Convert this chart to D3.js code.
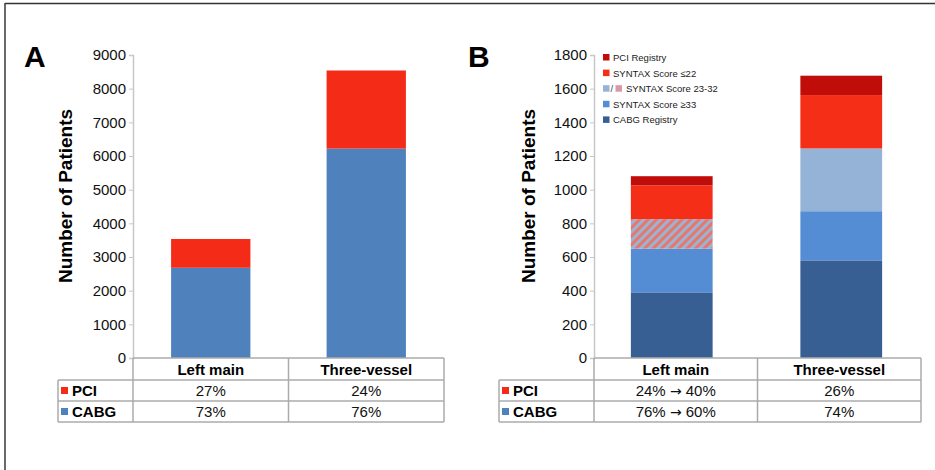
<!DOCTYPE html>
<html><head><meta charset="utf-8">
<script src="https://cdn.jsdelivr.net/npm/d3@7/dist/d3.min.js"></script>
<style>
html,body{margin:0;padding:0;background:#fff;}
svg{display:block;font-family:"Liberation Sans",Arial,sans-serif;}
</style></head>
<body><svg id="c" width="935" height="470"></svg>
<script>
// ---------- DATA ----------
const categories = ["Left main", "Three-vessel"];

// Panel A
const seriesA = ["CABG", "PCI"];
const cabgA = [2680, 6220];
const pciA = [855, 2320];
const ticksA = [0, 1000, 2000, 3000, 4000, 5000, 6000, 7000, 8000, 9000];
const tableA_PCI = ["27%", "24%"];
const tableA_CABG = ["73%", "76%"];

// Panel B
const seriesB = ["CABG Registry", "SYNTAX Score \u226533", "SYNTAX Score 23-32", "SYNTAX Score \u226422", "PCI Registry"];
const cabgRegistryB = [390, 580];
const syntax33B = [260, 292];
const syntax2332B = [175, 373];
const syntax22B = [200, 317];
const pciRegistryB = [55, 115];
const ticksB = [0, 200, 400, 600, 800, 1000, 1200, 1400, 1600, 1800];
const tableB_PCI = ["24% \u2192 40%", "26%"];
const tableB_CABG = ["76% \u2192 60%", "74%"];

// ---------- DRAW ----------
const svg = d3.select("#c");
const defs = svg.append("defs");
const pat = defs.append("pattern").attr("id", "hatch").attr("patternUnits", "userSpaceOnUse")
  .attr("width", 6).attr("height", 6).attr("patternTransform", "rotate(45)");
pat.append("rect").attr("width", 6).attr("height", 6).attr("fill", "#9db3d3");
pat.append("rect").attr("width", 3).attr("height", 6).attr("fill", "#e5786c");

// frame
svg.append("line").attr("x1", 5).attr("x2", 935).attr("y1", 3.5).attr("y2", 3.5).attr("stroke", "#333").attr("stroke-width", 1.6);
svg.append("line").attr("x1", 5).attr("x2", 5).attr("y1", 3).attr("y2", 470).attr("stroke", "#444").attr("stroke-width", 1.6);

function addText(sel, str) {
  // render arrow glyph with a font that has a long arrow
  const parts = str.split("\u2192");
  parts.forEach((p, i) => {
    if (i > 0) sel.append("tspan").attr("font-family", "DejaVu Sans").attr("font-size", 14).text("\u2192");
    sel.append("tspan").text(p);
  });
}

function panel(cfg) {
  const g = svg.append("g");
  const y = d3.scaleLinear().domain([0, cfg.max]).range([cfg.y0, cfg.y1]);
  const x = d3.scaleBand().domain(categories).range([cfg.axisX, cfg.tableRight]).padding(0);
  const bw = x.bandwidth() * cfg.barFrac;

  // letter
  g.append("text").attr("x", cfg.letterX).attr("y", 67).attr("font-size", 30).attr("font-weight", "bold").text(cfg.letter);
  // y label
  g.append("text").attr("transform", `translate(${cfg.labelX},196) rotate(-90)`).attr("text-anchor", "middle")
    .attr("font-size", 19).attr("font-weight", "bold").text("Number of Patients");

  // axis
  const ax = d3.axisLeft(y).tickValues(cfg.ticks).tickSize(4).tickPadding(3).tickFormat(d3.format("d"));
  const axg = g.append("g").attr("transform", `translate(${cfg.axisX},0)`).call(ax);
  axg.select(".domain").attr("stroke", "#c8c8c8").attr("stroke-width", 1.5);
  axg.selectAll(".tick line").attr("stroke", "#c8c8c8");
  axg.selectAll(".tick text").attr("font-size", 15).attr("fill", "#111").attr("font-family", "Liberation Sans, Arial, sans-serif");

  // bars
  const stack = d3.stack().keys(cfg.keys)(cfg.rows);
  stack.forEach((layer, i) => {
    g.selectAll(null).data(layer).enter().append("rect")
      .attr("x", (d, j) => x(categories[j]) + x.bandwidth() / 2 - bw / 2 + (cfg.shift ? cfg.shift[j] : 0))
      .attr("width", bw)
      .attr("y", d => y(d[1]))
      .attr("height", d => y(d[0]) - y(d[1]))
      .attr("fill", (d, j) => cfg.fill(i, j));
  });

  // table
  const tc = "#ababab";
  const rowsY = [cfg.y0, cfg.y0 + 22, cfg.y0 + 43, cfg.y0 + 64];
  const tl = g.append("g").attr("stroke", tc).attr("stroke-width", 1.5);
  tl.append("line").attr("x1", cfg.axisX).attr("x2", cfg.tableRight).attr("y1", rowsY[0]).attr("y2", rowsY[0]);
  [1, 2, 3].forEach(r => tl.append("line").attr("x1", cfg.tableLeft).attr("x2", cfg.tableRight).attr("y1", rowsY[r]).attr("y2", rowsY[r]));
  tl.append("line").attr("x1", cfg.tableLeft).attr("x2", cfg.tableLeft).attr("y1", rowsY[1]).attr("y2", rowsY[3]);
  tl.append("line").attr("x1", cfg.axisX).attr("x2", cfg.axisX).attr("y1", rowsY[0]).attr("y2", rowsY[3]);
  categories.forEach(c => tl.append("line").attr("x1", x(c) + x.bandwidth()).attr("x2", x(c) + x.bandwidth()).attr("y1", rowsY[0]).attr("y2", rowsY[3]));

  categories.forEach((c, j) => {
    const cx = x(c) + x.bandwidth() / 2;
    g.append("text").attr("x", cx).attr("y", rowsY[0] + 16.5).attr("text-anchor", "middle").attr("font-size", 15).attr("font-weight", "bold").text(c);
    addText(g.append("text").attr("x", cx).attr("y", rowsY[1] + 16).attr("text-anchor", "middle").attr("font-size", 15).attr("fill", "#111"), cfg.pct[0][j]);
    addText(g.append("text").attr("x", cx).attr("y", rowsY[2] + 16).attr("text-anchor", "middle").attr("font-size", 15).attr("fill", "#111"), cfg.pct[1][j]);
  });
  ["PCI", "CABG"].forEach((lab, r) => {
    const cy = (rowsY[r + 1] + rowsY[r + 2]) / 2;
    g.append("rect").attr("x", cfg.tableLeft + cfg.sqOff).attr("y", cy - 3.5).attr("width", 7).attr("height", 7).attr("fill", cfg.rowColors[r]);
    g.append("text").attr("x", cfg.tableLeft + cfg.sqOff + 11).attr("y", cy + 5.5).attr("font-size", 15).attr("font-weight", "bold").text(lab);
  });
  return { g, x, y };
}

// Panel A
const rowsA = categories.map((c, j) => ({ CABG: cabgA[j], PCI: pciA[j] }));
const colA = { "CABG": "#4f81bd", "PCI": "#f42b16" };
panel({
  letter: "A", letterX: 24, labelX: 72, max: 9000, ticks: ticksA, y0: 358, y1: 55,
  axisX: 133, tableRight: 444, tableLeft: 58, barFrac: 0.51, sqOff: 3,
  keys: seriesA, rows: rowsA, fill: (i) => colA[seriesA[i]],
  pct: [tableA_PCI, tableA_CABG], rowColors: ["#f42b16", "#4f81bd"]
});

// Panel B
const rowsB = categories.map((c, j) => ({
  "CABG Registry": cabgRegistryB[j], "SYNTAX Score \u226533": syntax33B[j],
  "SYNTAX Score 23-32": syntax2332B[j], "SYNTAX Score \u226422": syntax22B[j], "PCI Registry": pciRegistryB[j]
}));
const colB = ["#375f93", "#548dd4", "#95b3d7", "#f52e17", "#c00d0a"];
panel({
  letter: "B", letterX: 468, labelX: 535, max: 1800, ticks: ticksB, y0: 358, y1: 55,
  axisX: 594, tableRight: 921, tableLeft: 499, barFrac: 0.5, sqOff: 3, shift: [-4, 2],
  keys: seriesB, rows: rowsB, fill: (i, j) => (i === 2 && j === 0) ? "url(#hatch)" : colB[i],
  pct: [tableB_PCI, tableB_CABG], rowColors: ["#f42b16", "#4f81bd"]
});

// Legend B
const legendItems = seriesB.slice().reverse();
const legColors = colB.slice().reverse();
const lg = svg.append("g").attr("transform", "translate(603,57.5)");
legendItems.forEach((name, i) => {
  const gy = i * 15.6;
  const row = lg.append("g").attr("transform", `translate(0,${gy})`);
  row.append("rect").attr("x", 0).attr("y", -3.5).attr("width", 6.5).attr("height", 6.5).attr("fill", legColors[i]);
  let tx = 10;
  if (name === "SYNTAX Score 23-32") {
    row.append("text").attr("x", 7.5).attr("y", 3.5).attr("font-size", 9.5).attr("fill", "#444").text("/");
    row.append("rect").attr("x", 12.5).attr("y", -3.5).attr("width", 6.5).attr("height", 6.5).attr("fill", "#d79aa3");
    tx = 23;
  }
  row.append("text").attr("x", tx).attr("y", 3.4).attr("font-size", 9.5).attr("fill", "#222").text(name);
});
</script></body></html>
